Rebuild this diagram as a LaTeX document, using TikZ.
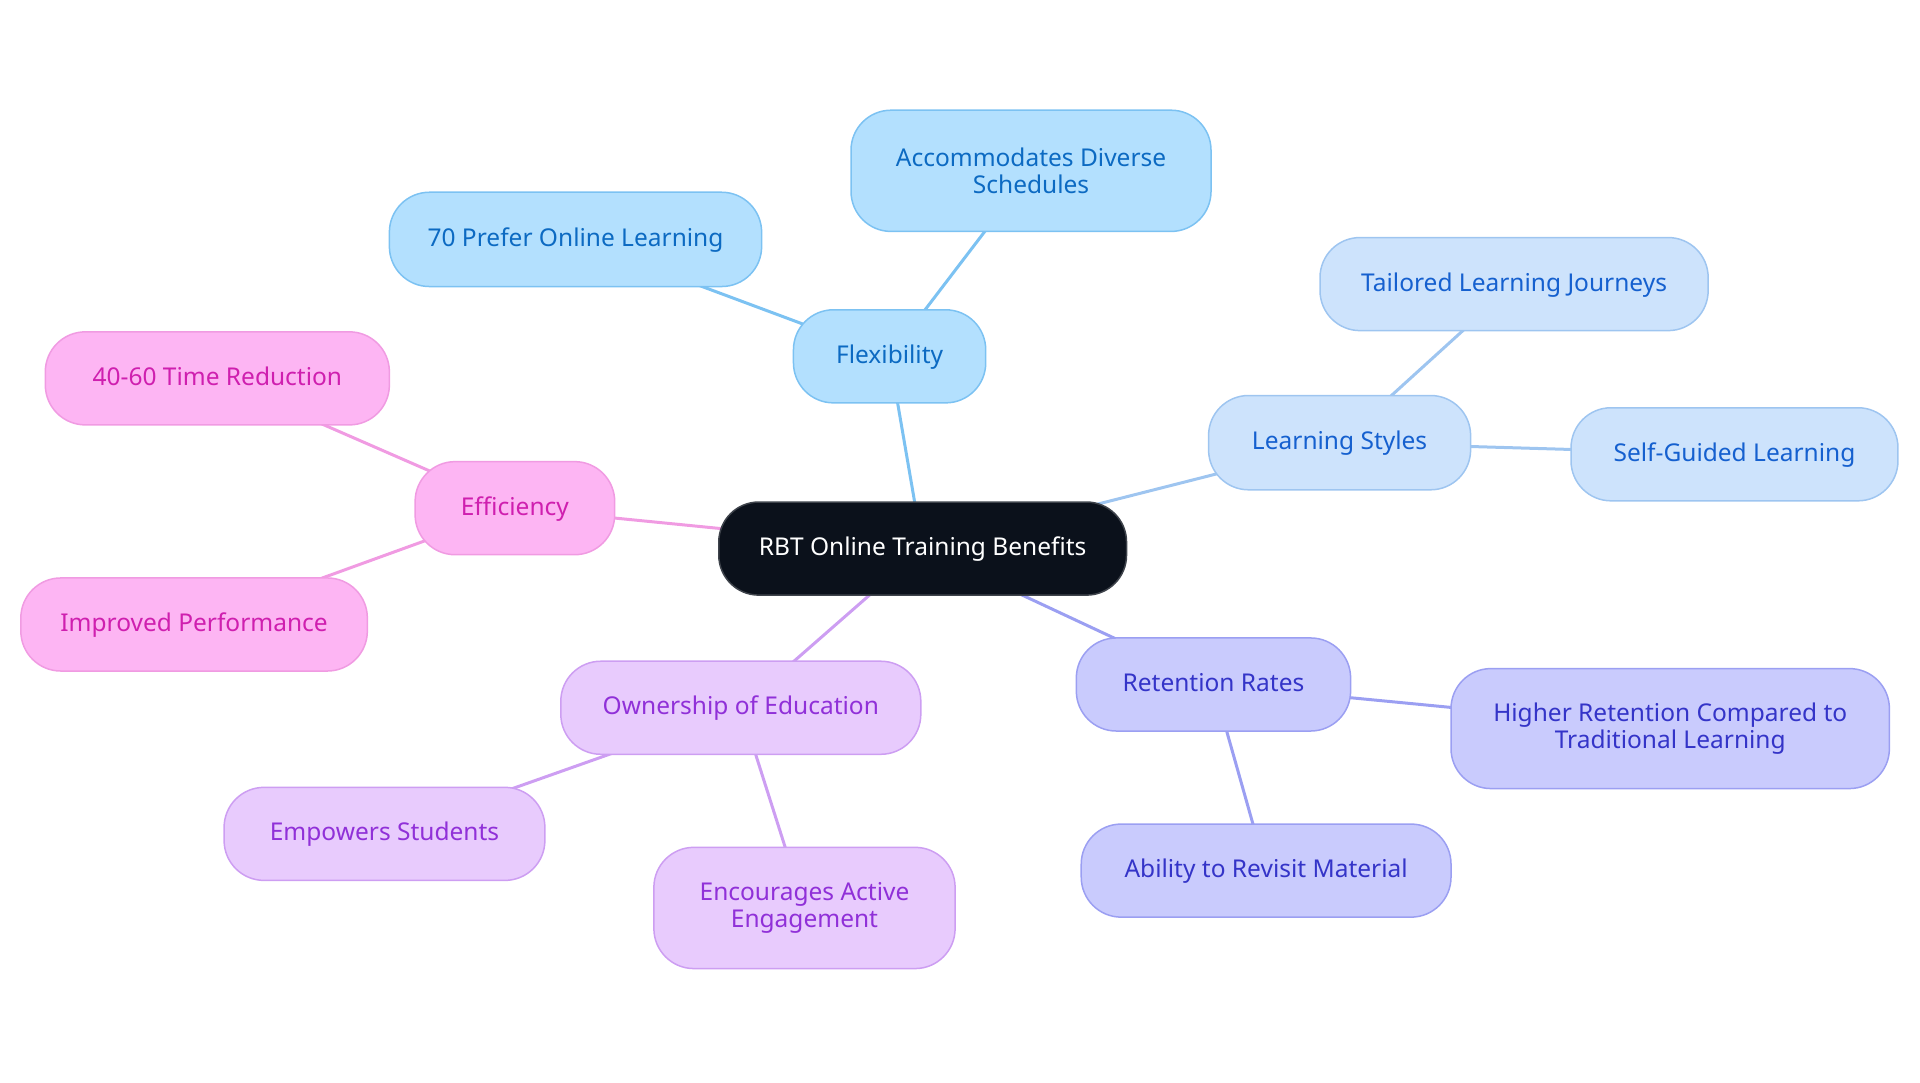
\documentclass[tikz,border=0pt]{standalone}
\usepackage{fontspec}
\setmainfont{Noto Sans}
\usetikzlibrary{backgrounds}
\def\pxu{1.2245pt}
\definecolor{cfill}{HTML}{0B111B}
\definecolor{cdraw}{HTML}{3E434B}
\definecolor{ffill}{HTML}{B3E0FE}
\definecolor{fdraw}{HTML}{7CC2F2}
\definecolor{ftext}{HTML}{0C6AC2}
\definecolor{lfill}{HTML}{CDE3FC}
\definecolor{ldraw}{HTML}{9EC5F0}
\definecolor{ltext}{HTML}{1560CF}
\definecolor{efill}{HTML}{FDB5F3}
\definecolor{edraw}{HTML}{F09BE2}
\definecolor{etext}{HTML}{CF1FAF}
\definecolor{ofill}{HTML}{E8CBFD}
\definecolor{odraw}{HTML}{CD9EF2}
\definecolor{otext}{HTML}{9030D8}
\definecolor{rfill}{HTML}{C9CBFD}
\definecolor{rdraw}{HTML}{9B9FF2}
\definecolor{rtext}{HTML}{3434C8}
\tikzset{
  base/.style={rounded corners=40pt, line width=1.5pt, align=center,
    font=\fontsize{24.5}{27.5}\selectfont, inner sep=0pt},
  one/.style={text height=19pt, text depth=5pt},
  cnode/.style={base, fill=cfill, draw=cdraw, text=white},
  fnode/.style={base, fill=ffill, draw=fdraw, text=ftext},
  lnode/.style={base, fill=lfill, draw=ldraw, text=ltext},
  enode/.style={base, fill=efill, draw=edraw, text=etext},
  onode/.style={base, fill=ofill, draw=odraw, text=otext},
  rnode/.style={base, fill=rfill, draw=rdraw, text=rtext},
  link/.style={line width=3pt},
  sz/.style 2 args={minimum width=#1*\pxu, minimum height=#2*\pxu}
}
\begin{document}
\begin{tikzpicture}[x=1.2245pt,y=-1.2245pt]
\useasboundingbox (0,0) rectangle (1568,884.4);
\node[cnode, one, sz={333}{76}] (c) at (753.5,448) {RBT Online Training Benefits};
% Flexibility
\node[fnode, one, sz={157}{76}] (flex) at (726.5,291) {Flexibility};
\node[fnode, sz={294}{99}] (acc) at (842,139.5) {Accommodates Diverse\\Schedules};
\node[fnode, one, sz={304}{77}] (pref) at (470,195.5) {70 Prefer Online Learning};
% Learning styles
\node[lnode, one, sz={214}{77}] (ls) at (1094,361.5) {Learning Styles};
\node[lnode, one, sz={317}{76}] (tlj) at (1236.5,232) {Tailored Learning Journeys};
\node[lnode, one, sz={267}{76}] (sgl) at (1416.5,371) {Self-Guided Learning};
% Efficiency
\node[enode, one, sz={163}{76}] (eff) at (420.5,415) {Efficiency};
\node[enode, one, sz={281}{76}] (tr) at (177.5,309) {40-60 Time Reduction};
\node[enode, one, sz={283}{76}] (ip) at (158.5,510) {Improved Performance};
% Ownership
\node[onode, one, sz={294}{76}] (own) at (605,578) {Ownership of Education};
\node[onode, one, sz={262}{76}] (emp) at (314,681) {Empowers Students};
\node[onode, sz={246}{99}] (enc) at (657,741.5) {Encourages Active\\Engagement};
% Retention
\node[rnode, one, sz={224}{76}] (ret) at (991,559) {Retention Rates};
\node[rnode, sz={358}{98}] (hr) at (1364,595) {Higher Retention Compared to\\Traditional Learning};
\node[rnode, one, sz={302}{76}] (arm) at (1034,711) {Ability to Revisit Material};
\begin{pgfonlayer}{background}
\draw[link, fdraw] (c.center) -- (flex.center);
\draw[link, fdraw] (flex.center) -- (acc.center);
\draw[link, fdraw] (flex.center) -- (pref.center);
\draw[link, ldraw] (c.center) -- (ls.center);
\draw[link, ldraw] (ls.center) -- (tlj.center);
\draw[link, ldraw] (ls.center) -- (sgl.center);
\draw[link, edraw] (c.center) -- (eff.center);
\draw[link, edraw] (eff.center) -- (tr.center);
\draw[link, edraw] (eff.center) -- (ip.center);
\draw[link, odraw] (c.center) -- (own.center);
\draw[link, odraw] (own.center) -- (emp.center);
\draw[link, odraw] (own.center) -- (enc.center);
\draw[link, rdraw] (c.center) -- (ret.center);
\draw[link, rdraw] (ret.center) -- (hr.center);
\draw[link, rdraw] (ret.center) -- (arm.center);
\end{pgfonlayer}
\end{tikzpicture}
\end{document}
